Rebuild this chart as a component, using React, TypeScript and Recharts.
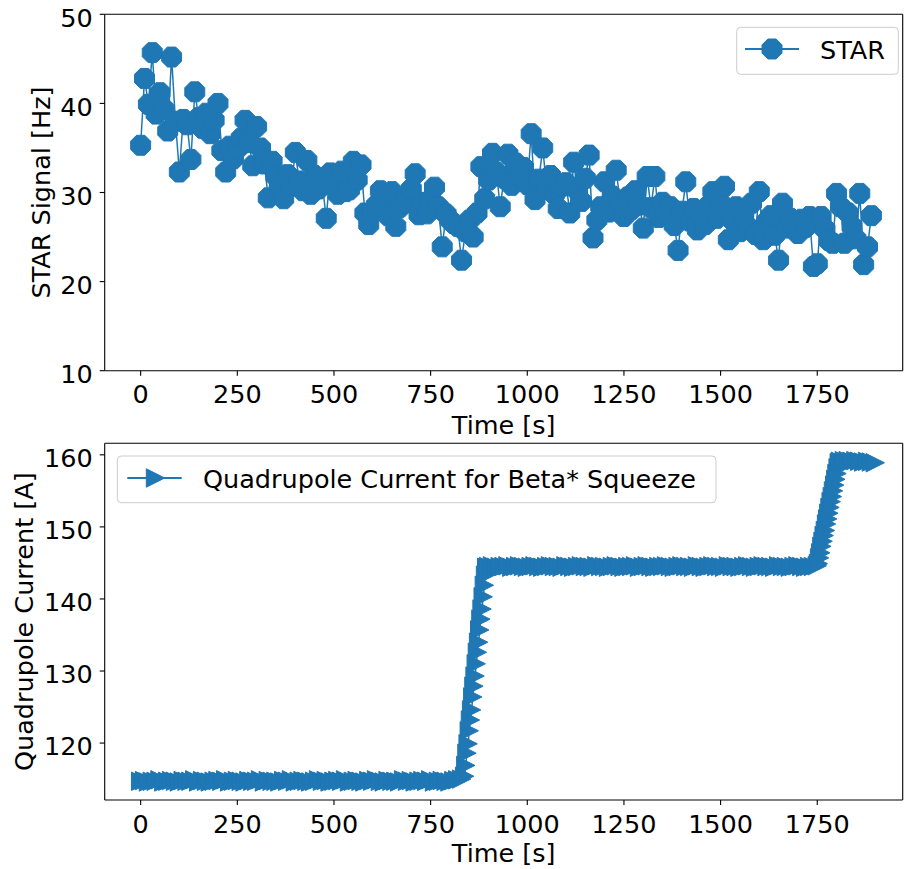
import React from "react";
import { LineChart, Line, XAxis, YAxis, ReferenceLine } from "recharts";

// STAR signal, sampled every 10 s
const starTime = [
  0, 10, 20, 30, 40, 50, 60, 70, 80, 90,
  100, 110, 120, 130, 140, 150, 160, 170, 180, 190,
  200, 210, 220, 230, 240, 250, 260, 270, 280, 290,
  300, 310, 320, 330, 340, 350, 360, 370, 380, 390,
  400, 410, 420, 430, 440, 450, 460, 470, 480, 490,
  500, 510, 520, 530, 540, 550, 560, 570, 580, 590,
  600, 610, 620, 630, 640, 650, 660, 670, 680, 690,
  700, 710, 720, 730, 740, 750, 760, 770, 780, 790,
  800, 810, 820, 830, 840, 850, 860, 870, 880, 890,
  900, 910, 920, 930, 940, 950, 960, 970, 980, 990,
  1000, 1010, 1020, 1030, 1040, 1050, 1060, 1070, 1080, 1090,
  1100, 1110, 1120, 1130, 1140, 1150, 1160, 1170, 1180, 1190,
  1200, 1210, 1220, 1230, 1240, 1250, 1260, 1270, 1280, 1290,
  1300, 1310, 1320, 1330, 1340, 1350, 1360, 1370, 1380, 1390,
  1400, 1410, 1420, 1430, 1440, 1450, 1460, 1470, 1480, 1490,
  1500, 1510, 1520, 1530, 1540, 1550, 1560, 1570, 1580, 1590,
  1600, 1610, 1620, 1630, 1640, 1650, 1660, 1670, 1680, 1690,
  1700, 1710, 1720, 1730, 1740, 1750, 1760, 1770, 1780, 1790,
  1800, 1810, 1820, 1830, 1840, 1850, 1860, 1870, 1880, 1890,
];

const starSignal = [
  35.3, 42.8, 39.9, 45.7, 38.8, 41.2, 39.4, 36.9, 45.2, 38.0,
  32.3, 38.2, 37.6, 33.7, 41.3, 38.4, 37.2, 38.9, 36.6, 38.1,
  40.0, 34.7, 32.3, 35.2, 33.8, 34.9, 36.1, 38.1, 35.6, 33.0,
  37.4, 35.0, 33.2, 29.4, 33.5, 31.8, 30.6, 29.3, 32.0, 30.8,
  34.5, 31.3, 30.2, 33.6, 29.8, 31.9, 30.4, 30.9, 27.1, 32.2,
  31.0, 29.8, 32.4, 30.1, 30.3, 33.5, 31.4, 33.1, 27.7, 26.4,
  27.9, 28.6, 30.2, 29.4, 27.4, 30.1, 26.2, 28.3, 28.8, 29.6,
  30.4, 32.1, 27.5, 28.9, 27.6, 29.2, 30.6, 28.4, 23.9, 27.6,
  26.9, 26.5, 26.2, 22.4, 25.6, 26.9, 25.0, 27.7, 32.9, 29.3,
  31.4, 34.4, 32.3, 28.4, 31.6, 34.3, 30.8, 33.3, 31.7, 32.8,
  30.9, 36.6, 29.2, 31.5, 35.0, 30.6, 31.9, 29.8, 28.2, 30.7,
  31.1, 27.7, 33.4, 30.2, 29.0, 31.6, 34.2, 24.9, 26.9, 28.4,
  31.2, 27.8, 29.6, 32.5, 29.0, 27.3, 29.5, 28.1, 30.2, 28.6,
  26.0, 31.8, 28.3, 31.8, 27.2, 28.9, 27.6, 28.4, 26.3, 23.5,
  27.9, 31.2, 26.8, 28.2, 25.8, 27.3, 26.4, 28.6, 30.1, 27.1,
  28.8, 30.7, 24.7, 26.9, 28.4, 25.6, 27.7, 26.2, 28.8, 25.3,
  30.1, 24.7, 26.8, 27.4, 25.2, 22.4, 28.8, 26.0, 27.1, 26.2,
  25.4, 27.0, 26.1, 27.3, 21.7, 22.0, 27.3, 25.9, 24.6, 24.3,
  29.9, 28.4, 24.3, 27.7, 26.2, 24.8, 29.9, 21.9, 23.9, 27.4,
];

// quadrupole current: flat plateaus, finer sampling through the two ramps
const quadTime = [
  0, 10, 20, 30, 40, 50, 60, 70, 80, 90,
  100, 110, 120, 130, 140, 150, 160, 170, 180, 190,
  200, 210, 220, 230, 240, 250, 260, 270, 280, 290,
  300, 310, 320, 330, 340, 350, 360, 370, 380, 390,
  400, 410, 420, 430, 440, 450, 460, 470, 480, 490,
  500, 510, 520, 530, 540, 550, 560, 570, 580, 590,
  600, 610, 620, 630, 640, 650, 660, 670, 680, 690,
  700, 710, 720, 730, 740, 750, 760, 770, 780, 790,
  800, 810, 820, 830,
  838, 841, 844, 847, 850, 853, 856, 859, 862, 865,
  868, 871, 874, 877, 880, 883, 886, 889, 892, 895,
  900, 910, 920, 930, 940, 950, 960, 970, 980, 990,
  1000, 1010, 1020, 1030, 1040, 1050, 1060, 1070, 1080, 1090,
  1100, 1110, 1120, 1130, 1140, 1150, 1160, 1170, 1180, 1190,
  1200, 1210, 1220, 1230, 1240, 1250, 1260, 1270, 1280, 1290,
  1300, 1310, 1320, 1330, 1340, 1350, 1360, 1370, 1380, 1390,
  1400, 1410, 1420, 1430, 1440, 1450, 1460, 1470, 1480, 1490,
  1500, 1510, 1520, 1530, 1540, 1550, 1560, 1570, 1580, 1590,
  1600, 1610, 1620, 1630, 1640, 1650, 1660, 1670, 1680, 1690,
  1700, 1710, 1720, 1730, 1740, 1750,
  1753, 1756, 1759, 1762, 1765, 1768, 1771, 1774, 1777, 1780,
  1783, 1786, 1789, 1792, 1795, 1798, 1801, 1804, 1807,
  1810, 1820, 1830, 1840, 1850, 1860, 1870, 1880, 1890, 1900,
];

const quadCurrent = [
  114.7, 114.8, 114.6, 114.7, 114.7, 114.9, 114.6, 114.7, 114.8, 114.7,
  114.6, 114.8, 114.7, 114.7, 114.9, 114.6, 114.8, 114.7, 114.6, 114.7,
  114.8, 114.7, 114.9, 114.6, 114.7, 114.8, 114.7, 114.6, 114.8, 114.7,
  114.7, 114.9, 114.6, 114.8, 114.7, 114.7, 114.6, 114.8, 114.7, 114.9,
  114.6, 114.7, 114.8, 114.7, 114.6, 114.7, 114.9, 114.7, 114.8, 114.6,
  114.7, 114.8, 114.7, 114.9, 114.6, 114.7, 114.8, 114.7, 114.6, 114.8,
  114.7, 114.9, 114.7, 114.6, 114.8, 114.7, 114.7, 114.6, 114.9, 114.7,
  114.8, 114.6, 114.7, 114.8, 114.7, 114.9, 114.6, 114.7, 114.8, 114.7,
  114.6, 114.8, 114.9, 115.0,
  115.4, 116.9, 118.6, 119.9, 121.7, 123.2, 124.6, 126.4, 127.9, 129.3,
  131.0, 132.6, 134.0, 135.7, 137.2, 138.6, 140.3, 141.9, 143.3, 144.4,
  144.5, 144.6, 144.4, 144.5, 144.5, 144.6, 144.4, 144.5, 144.6, 144.5,
  144.4, 144.5, 144.6, 144.5, 144.4, 144.5, 144.6, 144.5, 144.5, 144.4,
  144.6, 144.5, 144.4, 144.5, 144.6, 144.5, 144.5, 144.4, 144.6, 144.5,
  144.5, 144.4, 144.5, 144.6, 144.5, 144.4, 144.5, 144.5, 144.6, 144.4,
  144.5, 144.6, 144.5, 144.4, 144.5, 144.5, 144.6, 144.5, 144.4, 144.5,
  144.6, 144.5, 144.5, 144.4, 144.6, 144.5, 144.4, 144.5, 144.6, 144.5,
  144.5, 144.4, 144.6, 144.5, 144.5, 144.4, 144.5, 144.6, 144.5, 144.4,
  144.5, 144.6, 144.5, 144.5, 144.4, 144.6, 144.5, 144.5, 144.4, 144.5,
  144.6, 144.5, 144.4, 144.5, 144.5, 144.6,
  144.9, 145.7, 146.4, 147.3, 148.0, 148.8, 149.5, 150.4, 151.1, 151.9,
  152.7, 153.5, 154.2, 155.0, 155.8, 156.6, 157.4, 158.2, 158.9,
  159.1, 159.2, 159.2, 159.1, 159.2, 159.1, 159.0, 159.1, 159.0, 158.9,
];

const timeTicks = [0, 250, 500, 750, 1000, 1250, 1500, 1750];
const starTicks = [10, 20, 30, 40, 50];
const quadTicks = [120, 130, 140, 150, 160];

const starData = starTime.map((t, i) => ({ t, v: starSignal[i] }));
const quadData = quadTime.map((t, i) => ({ t, v: quadCurrent[i] }));

const BLUE = "#1f77b4";
const INK = "#000";
const FONT = "DejaVu Sans";
const FS = 25.5;
const X_DOMAIN: [number, number] = [-93, 1971];
const QUAD_DOMAIN: [number, number] = [112.1, 161.6];

const octagonPoints = (cx: number, cy: number, r: number) =>
  Array.from({ length: 8 }, (_, k) => {
    const a = ((22.5 + 45 * k) * Math.PI) / 180;
    return `${cx + r * Math.cos(a)},${cy + r * Math.sin(a)}`;
  }).join(" ");

const trianglePoints = (cx: number, cy: number, h: number) =>
  `${cx + h},${cy} ${cx - h},${cy - h} ${cx - h},${cy + h}`;

const OctagonDot = (props: any) => {
  const { cx, cy, index } = props;
  if (cx == null || cy == null) return <g key={`o-${index}`} />;
  return (
    <polygon
      key={`o-${index}`}
      points={octagonPoints(cx, cy, 10.8)}
      fill={BLUE}
      stroke={BLUE}
      strokeWidth={1}
    />
  );
};

const TriangleDot = (props: any) => {
  const { cx, cy, index } = props;
  if (cx == null || cy == null) return <g key={`t-${index}`} />;
  return (
    <polygon
      key={`t-${index}`}
      points={trianglePoints(cx, cy, 9.2)}
      fill={BLUE}
      stroke={BLUE}
      strokeWidth={1}
    />
  );
};

const XTick = (props: any) => {
  const { x, y, payload } = props;
  return (
    <text x={x} y={y + 27.6} textAnchor="middle" fontFamily={FONT} fontSize={FS} fill={INK}>
      {payload.value}
    </text>
  );
};

const YTick = (props: any) => {
  const { x, y, payload } = props;
  return (
    <text x={x - 7} y={y + 12.2} textAnchor="end" fontFamily={FONT} fontSize={FS} fill={INK}>
      {payload.value}
    </text>
  );
};

const xTitle = (baseline: number) => (props: any) => (
  <text x={503.7} y={baseline} textAnchor="middle" fontFamily={FONT} fontSize={FS} fill={INK}>
    {props.value}
  </text>
);

const yTitle = (baselineX: number, centerY: number) => (props: any) => (
  <text
    x={baselineX}
    y={centerY}
    transform={`rotate(-90 ${baselineX} ${centerY})`}
    textAnchor="middle"
    fontFamily={FONT}
    fontSize={FS}
    fill={INK}
  >
    {props.value}
  </text>
);

const axisStroke = { stroke: INK, strokeWidth: 1.1 };

export default function App() {
  return (
    <div style={{ position: "absolute", left: 0, top: 0, width: 904, height: 869, background: "#fff" }}>
      <div style={{ position: "absolute", left: 0, top: 0 }}>
        <LineChart width={904} height={440} data={starData} margin={{ top: 14.3, right: 1.3, bottom: 0, left: 0 }}>
          <XAxis
            dataKey="t"
            type="number"
            domain={X_DOMAIN}
            allowDataOverflow
            ticks={timeTicks}
            interval={0}
            height={69.3}
            tickSize={5}
            tickMargin={0}
            tick={<XTick />}
            tickLine={axisStroke}
            axisLine={axisStroke}
            label={{ value: "Time [s]", content: xTitle(434) }}
          />
          <YAxis
            type="number"
            domain={[10, 50]}
            ticks={starTicks}
            interval={0}
            width={104.7}
            tickSize={5}
            tickMargin={0}
            tick={<YTick />}
            tickLine={axisStroke}
            axisLine={axisStroke}
            label={{ value: "STAR Signal [Hz]", content: yTitle(50, 192.5) }}
          />
          <ReferenceLine y={50} stroke={INK} strokeWidth={1.1} />
          <ReferenceLine x={X_DOMAIN[1]} stroke={INK} strokeWidth={1.1} />
          <Line
            dataKey="v"
            type="linear"
            stroke={BLUE}
            strokeWidth={1.5}
            dot={OctagonDot}
            activeDot={false}
            isAnimationActive={false}
          />
        </LineChart>
      </div>
      <div style={{ position: "absolute", left: 0, top: 440 }}>
        <LineChart width={904} height={429} data={quadData} margin={{ top: 3.3, right: 1.3, bottom: 0, left: 0 }}>
          <XAxis
            dataKey="t"
            type="number"
            domain={X_DOMAIN}
            allowDataOverflow
            ticks={timeTicks}
            interval={0}
            height={69}
            tickSize={5}
            tickMargin={0}
            tick={<XTick />}
            tickLine={axisStroke}
            axisLine={axisStroke}
            label={{ value: "Time [s]", content: xTitle(422) }}
          />
          <YAxis
            type="number"
            domain={QUAD_DOMAIN}
            allowDataOverflow
            ticks={quadTicks}
            interval={0}
            width={104.7}
            tickSize={5}
            tickMargin={0}
            tick={<YTick />}
            tickLine={axisStroke}
            axisLine={axisStroke}
            label={{ value: "Quadrupole Current [A]", content: yTitle(33, 181.7) }}
          />
          <ReferenceLine y={QUAD_DOMAIN[1]} stroke={INK} strokeWidth={1.1} />
          <ReferenceLine x={X_DOMAIN[1]} stroke={INK} strokeWidth={1.1} />
          <Line
            dataKey="v"
            type="linear"
            stroke={BLUE}
            strokeWidth={1.5}
            dot={TriangleDot}
            activeDot={false}
            isAnimationActive={false}
          />
        </LineChart>
      </div>
      {/* legends */}
      <svg width={904} height={869} style={{ position: "absolute", left: 0, top: 0, pointerEvents: "none" }}>
        <rect x={736.7} y={27.3} width={161.6} height={47} rx={4} fill="#fff" fillOpacity={0.8} stroke="#ccc" strokeWidth={1} />
        <line x1={745} y1={49} x2={799} y2={49} stroke={BLUE} strokeWidth={2} />
        <polygon points={octagonPoints(772, 49, 10.8)} fill={BLUE} stroke={BLUE} strokeWidth={1} />
        <text x={820} y={59.3} fontFamily={FONT} fontSize={FS} fill={INK}>
          STAR
        </text>
        <rect x={117.3} y={456} width={598.7} height={46.7} rx={4} fill="#fff" fillOpacity={0.8} stroke="#ccc" strokeWidth={1} />
        <line x1={127.3} y1={478} x2={181.7} y2={478} stroke={BLUE} strokeWidth={2} />
        <polygon points={trianglePoints(155.5, 478, 9.2)} fill={BLUE} stroke={BLUE} strokeWidth={1} />
        <text x={203} y={488.3} fontFamily={FONT} fontSize={FS} fill={INK}>
          Quadrupole Current for Beta* Squeeze
        </text>
      </svg>
    </div>
  );
}
